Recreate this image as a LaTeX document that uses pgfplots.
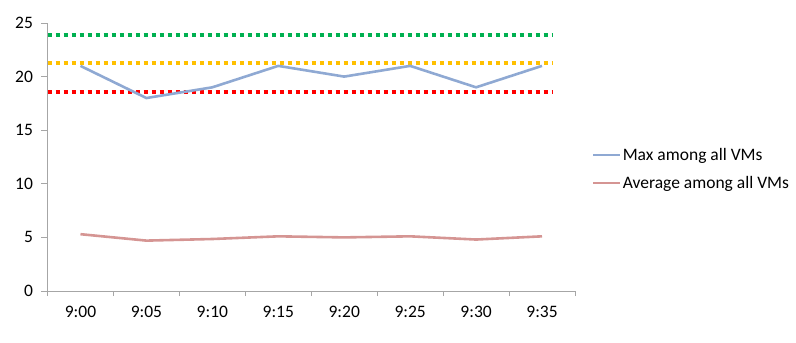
\documentclass[border=0pt]{standalone}
\usepackage{fontspec}
\setmainfont{Carlito}
\usepackage{pgfplots}
\pgfplotsset{compat=1.18}
\definecolor{maxblue}{HTML}{8FA9D3}
\definecolor{avgred}{HTML}{D59593}
\definecolor{xlgreen}{HTML}{00B050}
\definecolor{xlyellow}{HTML}{FFC000}
\definecolor{xlred}{HTML}{FF0000}
\definecolor{axgray}{HTML}{A6A6A6}
\begin{document}
\begin{tikzpicture}
\path[use as bounding box] (0,0) rectangle (796bp,343bp);
\begin{axis}[
  at={(47.5bp,52bp)}, anchor=south west,
  scale only axis, width=527.5bp, height=268bp,
  xmin=-0.5, xmax=7.5, ymin=0, ymax=25,
  axis x line*=bottom, axis y line*=left,
  axis line style={axgray, line width=0.8bp, -},
  xtick={0,...,7},
  xticklabels={9:00,9:05,9:10,9:15,9:20,9:25,9:30,9:35},
  minor xtick={-0.5,0.5,...,7.5},
  ytick={0,5,10,15,20,25},
  major tick length=6bp,
  minor tick length=5bp,
  tick style={axgray, line width=0.8bp},
  xtick style={draw=none},
  minor x tick style={draw=axgray, line width=0.8bp},
  y tick label style={xshift=-5bp},
  x tick label style={yshift=-6bp},
  tick label style={font=\fontsize{17.5bp}{20bp}\selectfont},
  /pgf/number format/assume math mode=true,
  tick align=outside,
  clip=false,
  legend style={draw=none, at={(1,0.5)}, anchor=west, xshift=14bp, yshift=-12bp,
    font=\fontsize{17.5bp}{20bp}\selectfont, row sep=12bp,
    nodes={inner sep=1bp}},
  legend cell align=left,
  legend image code/.code={\draw[#1] (0bp,0bp) -- (27bp,0bp);},
]
\addplot[xlgreen, line width=4bp, dash pattern=on 4bp off 4bp, forget plot] coordinates {(-0.5,23.85) (7.15,23.85)};
\addplot[xlyellow, line width=4bp, dash pattern=on 4bp off 4bp, forget plot] coordinates {(-0.5,21.24) (7.15,21.24)};
\addplot[xlred, line width=4bp, dash pattern=on 4bp off 4bp, forget plot] coordinates {(-0.5,18.6) (7.15,18.6)};
\addplot[maxblue, line width=2.6bp] coordinates {(0,21) (1,18) (2,19) (3,21) (4,20) (5,21) (6,19) (7,21)};
\addlegendentry{Max among all VMs}
\addplot[avgred, line width=2.6bp] coordinates {(0,5.3) (1,4.7) (2,4.85) (3,5.1) (4,5.0) (5,5.1) (6,4.8) (7,5.1)};
\addlegendentry{Average among all VMs}
\end{axis}
\end{tikzpicture}
\end{document}
